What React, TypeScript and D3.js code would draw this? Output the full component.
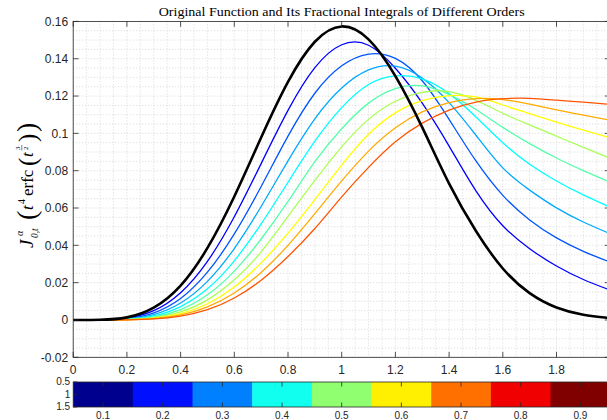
import React from 'react';
import * as d3 from 'd3';

// sample times (step 0.1)
const tGrid = [0, 0.1, 0.2, 0.3, 0.4, 0.5, 0.6, 0.7, 0.8, 0.9, 1.0, 1.1, 1.2, 1.3, 1.4, 1.5, 1.6, 1.7, 1.8, 1.9, 2.0];

// original function
const fOriginal = [0, 0.0001, 0.0014, 0.0066, 0.0184, 0.0386, 0.0662, 0.0978, 0.1276, 0.1491, 0.1573, 0.1504, 0.1307, 0.1032, 0.0731, 0.0477, 0.0276, 0.0144, 0.0067, 0.0028, 0.0010];

// fractional integrals, order 0.1 ... 0.9
const fOrder01 = [0, 0.0001, 0.00105, 0.0050, 0.0146, 0.0314, 0.0553, 0.0838, 0.1123, 0.1352, 0.1475, 0.1472, 0.1349, 0.1162, 0.0932, 0.0692, 0.0505, 0.0382, 0.0289, 0.0217, 0.0160];
const fOrder02 = [0, 0.0001, 0.00077, 0.0038, 0.0115, 0.0256, 0.0461, 0.0715, 0.0985, 0.1215, 0.1362, 0.1425, 0.1402, 0.1282, 0.1075, 0.0852, 0.0668, 0.0536, 0.0440, 0.0368, 0.0310];
const fOrder03 = [0, 0, 0.00056, 0.0029, 0.0091, 0.0207, 0.0383, 0.0608, 0.0853, 0.1078, 0.1243, 0.1340, 0.1360, 0.1296, 0.1165, 0.0990, 0.0815, 0.0696, 0.0601, 0.0525, 0.0462];
const fOrder04 = [0, 0, 0.00041, 0.0022, 0.0072, 0.0167, 0.0317, 0.0515, 0.0738, 0.0958, 0.1138, 0.1262, 0.1308, 0.1292, 0.1213, 0.1088, 0.0950, 0.0835, 0.0745, 0.0670, 0.0604];
const fOrder05 = [0, 0, 0.0003, 0.0017, 0.0056, 0.0135, 0.0262, 0.0434, 0.0635, 0.0848, 0.1025, 0.1162, 0.1240, 0.1254, 0.1208, 0.1128, 0.1032, 0.0945, 0.0868, 0.0800, 0.0738];
const fOrder06 = [0, 0, 0.00021, 0.0013, 0.0044, 0.0108, 0.0215, 0.0365, 0.0555, 0.0748, 0.0928, 0.1075, 0.1172, 0.1220, 0.1224, 0.1177, 0.1108, 0.1045, 0.0985, 0.0925, 0.0866];
const fOrder07 = [0, 0, 0.00015, 0.00095, 0.0034, 0.0087, 0.01765, 0.0306, 0.0465, 0.0645, 0.0830, 0.0995, 0.1110, 0.1175, 0.1202, 0.1195, 0.1152, 0.1106, 0.1060, 0.1017, 0.0976];
const fOrder08 = [0, 0, 0.00011, 0.0007, 0.0027, 0.0070, 0.01445, 0.0255, 0.0400, 0.0570, 0.0745, 0.0905, 0.1030, 0.1115, 0.1165, 0.1186, 0.1181, 0.1157, 0.1126, 0.1098, 0.1070];
const fOrder09 = [0, 0, 0.00008, 0.00054, 0.0021, 0.0055, 0.0118, 0.0213, 0.0340, 0.0490, 0.0660, 0.0818, 0.0955, 0.1055, 0.1125, 0.1168, 0.1186, 0.1188, 0.1178, 0.1167, 0.1155];

const orders = [0.1, 0.2, 0.3, 0.4, 0.5, 0.6, 0.7, 0.8, 0.9];
const lineColors = ['#0000ff', '#0055ff', '#00aaff', '#00ffff', '#55ffaa', '#aaff55', '#ffff00', '#ffaa00', '#ff5500'];
const barColors = ['#00008f', '#0010ff', '#0080ff', '#10ffef', '#90ff70', '#ffef00', '#ff7000', '#f00000', '#800000'];

// the "2" label of the x axis falls outside the window in the reference
const xTickValues = [0, 0.2, 0.4, 0.6, 0.8, 1, 1.2, 1.4, 1.6, 1.8, 2];
const xTickLabels = ['0', '0.2', '0.4', '0.6', '0.8', '1', '1.2', '1.4', '1.6', '1.8'];
const yTickLabels = ['-0.02', '0', '0.02', '0.04', '0.06', '0.08', '0.1', '0.12', '0.14', '0.16'];
const barYLabels = ['0.5', '1', '1.5'];

const W = 607;
const H = 420;
const sans = 'Liberation Sans, Arial, sans-serif';
const serif = 'Liberation Serif, Times New Roman, serif';

export default function App() {
  const x = d3.scaleLinear().domain([0, 2]).range([73.2, 610.2]);
  const y = d3.scaleLinear().domain([-0.02, 0.16]).range([357.3, 21.4]);
  const cbX = d3.scaleLinear().domain([0.05, 0.95]).range([73.2, 610.2]);
  const cbY = d3.scaleLinear().domain([0.5, 1.5]).range([382, 407]);

  const line = d3.line<number>()
    .x((_, i) => x(tGrid[i]))
    .y(d => y(d))
    .curve(d3.curveNatural);

  const series = [fOrder01, fOrder02, fOrder03, fOrder04, fOrder05, fOrder06, fOrder07, fOrder08, fOrder09];

  const [x0, x1] = x.range();
  const [yb, yt] = y.range();
  const xMinor = d3.range(0, 2.0001, 0.05);
  const yMinor = d3.range(-0.02, 0.1601, 0.005);
  const yMajor = yTickLabels.map(Number);
  const tk = 5.4;

  return (
    <svg width={W} height={H} style={{ position: 'absolute', left: 0, top: 0, background: '#fff' }}>
      <defs>
        <clipPath id="plot">
          <rect x={x0} y={yt} width={x1 - x0} height={yb - yt} />
        </clipPath>
      </defs>
      <rect x={0} y={0} width={W} height={H} fill="#fff" />

      {/* grid */}
      <g stroke="#c8c8c8" strokeWidth={0.7} strokeDasharray="1,2">
        {xMinor.map((v, i) => <line key={'gx' + i} x1={x(v)} x2={x(v)} y1={yt} y2={yb} />)}
        {yMinor.map((v, i) => <line key={'gy' + i} x1={x0} x2={x1} y1={y(v)} y2={y(v)} />)}
      </g>

      {/* curves */}
      <g clipPath="url(#plot)" fill="none">
        {series.map((s, i) => (
          <path key={orders[i]} d={line(s) || ''} stroke={lineColors[i]} strokeWidth={1.3} />
        ))}
        <path d={line(fOriginal) || ''} stroke="#000" strokeWidth={2.6} />
      </g>

      {/* axes box and ticks */}
      <g stroke="#262626" strokeWidth={0.8} fill="none">
        <rect x={x0} y={yt} width={x1 - x0} height={yb - yt} />
        {xTickValues.map((v, i) => (
          <g key={'xt' + i}>
            <line x1={x(v)} x2={x(v)} y1={yb} y2={yb - tk} />
            <line x1={x(v)} x2={x(v)} y1={yt} y2={yt + tk} />
          </g>
        ))}
        {yMajor.map((v, i) => (
          <g key={'yt' + i}>
            <line x1={x0} x2={x0 + tk} y1={y(v)} y2={y(v)} />
            <line x1={x1} x2={x1 - tk} y1={y(v)} y2={y(v)} />
          </g>
        ))}
      </g>

      <g fontFamily={sans} fontSize={12} fill="#262626">
        {xTickLabels.map((s, i) => (
          <text key={'xl' + i} x={x(xTickValues[i])} y={yb + 17} textAnchor="middle">{s}</text>
        ))}
        {yTickLabels.map((s, i) => (
          <text key={'yl' + i} x={x0 - 5} y={y(yMajor[i]) + 4.3} textAnchor="end">{s}</text>
        ))}
      </g>

      {/* title */}
      <text x={(x0 + x1) / 2} y={15.5} textAnchor="middle" fontFamily={serif} fontSize={12.5}
        textLength={366} lengthAdjust="spacingAndGlyphs" fill="#000">
        Original Function and Its Fractional Integrals of Different Orders
      </text>

      {/* y label */}
      <g transform="translate(33, 248) rotate(-90)" fontFamily={serif} fill="#000">
        <text x={0} y={0} fontSize={19} fontStyle="italic">J</text>
        <text x={12} y={-10} fontSize={10} fontStyle="italic">α</text>
        <text x={10} y={5} fontSize={9.5} fontStyle="italic">0,t</text>
        <text x={28} y={3} fontSize={28} fontWeight={300}>(</text>
        <text x={38} y={0} fontSize={17} fontStyle="italic">t</text>
        <text x={44} y={-8} fontSize={10}>4</text>
        <text x={52} y={0} fontSize={17}>erfc</text>
        <text x={82} y={3} fontSize={25}>(</text>
        <text x={91} y={0} fontSize={17} fontStyle="italic">t</text>
        <text x={98} y={-13.5} fontSize={7}>3</text>
        <line x1={97.5} x2={103} y1={-11.2} y2={-11.2} stroke="#000" strokeWidth={0.5} />
        <text x={98} y={-5} fontSize={7}>2</text>
        <text x={106} y={3} fontSize={25}>)</text>
        <text x={116} y={3} fontSize={28}>)</text>
      </g>

      {/* colour bar */}
      <g>
        {orders.map((o, i) => (
          <rect key={'cb' + i} x={cbX(o - 0.05)} y={cbY(0.5)} width={cbX(o + 0.05) - cbX(o - 0.05) + 0.5}
            height={cbY(1.5) - cbY(0.5)} fill={barColors[i]} />
        ))}
        <g stroke="#262626" strokeWidth={0.8} fill="none">
          <rect x={cbX(0.05)} y={cbY(0.5)} width={cbX(0.95) - cbX(0.05)} height={cbY(1.5) - cbY(0.5)} />
          {orders.map((o, i) => (
            <g key={'cbt' + i}>
              <line x1={cbX(o)} x2={cbX(o)} y1={cbY(0.5)} y2={cbY(0.5) + 4.5} />
              <line x1={cbX(o)} x2={cbX(o)} y1={cbY(1.5)} y2={cbY(1.5) - 4.5} />
            </g>
          ))}
          {barYLabels.map((s, i) => (
            <line key={'cby' + i} x1={cbX(0.05)} x2={cbX(0.05) + 4} y1={cbY(Number(s))} y2={cbY(Number(s))} />
          ))}
        </g>
        <g fontFamily={sans} fontSize={10} fill="#262626">
          {orders.map((o, i) => (
            <text key={'cbl' + i} x={cbX(o)} y={418.5} textAnchor="middle">{String(o)}</text>
          ))}
          {barYLabels.map((s, i) => (
            <text key={'cbyl' + i} x={cbX(0.05) - 3} y={cbY(Number(s)) + 3.3} textAnchor="end">{s}</text>
          ))}
        </g>
      </g>
    </svg>
  );
}
